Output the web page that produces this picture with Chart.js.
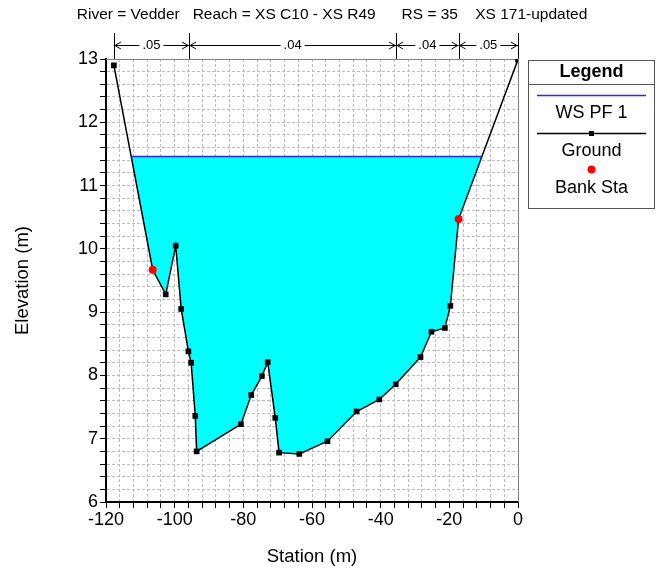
<!DOCTYPE html>
<html>
<head>
<meta charset="utf-8">
<script src="https://cdn.jsdelivr.net/npm/chart.js@4.4.1/dist/chart.umd.min.js"></script>
<style>
  html, body { margin: 0; padding: 0; background: #fff; }
</style>
</head>
<body>
<canvas id="xs-chart" width="658" height="576"></canvas>
<script>
const titleText = "River = Vedder   Reach = XS C10 - XS R49      RS = 35    XS 171-updated";

const groundStation = [-117.7, -106.4, -102.6, -99.7, -98.1, -96.0, -95.2, -94.0, -93.6, -80.7, -77.7, -74.6, -72.9,
    -70.7, -69.6, -63.7, -55.5, -47.0, -40.4, -35.6, -28.4, -25.2, -21.3, -19.7, -17.3, 0];
const groundElev = [12.90, 9.67, 9.28, 10.05, 9.05, 8.38, 8.20, 7.36, 6.80, 7.23, 7.69, 7.99, 8.21,
    7.33, 6.78, 6.76, 6.96, 7.43, 7.62, 7.86, 8.29, 8.69, 8.75, 9.10, 10.47, 12.99];

const bankStation = [-106.4, -17.3];
const bankElev = [9.67, 10.47];

// water surface edges where it meets the ground
const wsStation = [-112.6, -10.6];
const wsElev = 11.46;

// manning's n breaks along the top
const nStation = [-117.7, -95.8, -35.5, -17.3, 0];
const nValue = [".05", ".04", ".04", ".05"];

const xTickLabels = [-120, -100, -80, -60, -40, -20, 0];
const yTickLabels = [6, 7, 8, 9, 10, 11, 12, 13];

const FONT = "'Liberation Sans', Arial, Helvetica, sans-serif";

// wetted part of the section: ws edge, ground points under the ws, ws edge
const waterPoints = [{x: wsStation[0], y: wsElev}]
    .concat(groundStation.map((x, i) => ({x, y: groundElev[i]})).filter(p => p.y < wsElev))
    .concat([{x: wsStation[1], y: wsElev}]);

const decorations = {
    id: "decorations",
    beforeDatasetsDraw(chart) {
        const {ctx, chartArea: a} = chart;
        ctx.save();
        ctx.strokeStyle = "#808080";
        ctx.lineWidth = 1;
        ctx.beginPath();
        ctx.moveTo(a.left, a.top + 0.5);
        ctx.lineTo(a.right + 0.5, a.top + 0.5);
        ctx.lineTo(a.right + 0.5, a.bottom);
        ctx.stroke();
        ctx.restore();
    },
    afterDraw(chart) {
        const {ctx, chartArea: a, scales} = chart;
        const xs = scales.x;
        ctx.save();

        // title
        ctx.fillStyle = "#000";
        ctx.font = "15.5px " + FONT;
        ctx.textAlign = "center";
        ctx.textBaseline = "middle";
        ctx.fillText(titleText, 332, 15);

        // n value bar
        const barY = 45.5;
        ctx.strokeStyle = "#000";
        ctx.lineWidth = 1;
        nStation.forEach(s => {
            const px = Math.round(xs.getPixelForValue(s)) + 0.5;
            ctx.beginPath();
            ctx.moveTo(px, 33);
            ctx.lineTo(px, a.top);
            ctx.stroke();
        });
        ctx.font = "13px " + FONT;
        for (let i = 0; i < nValue.length; i++) {
            const x1 = xs.getPixelForValue(nStation[i]);
            const x2 = xs.getPixelForValue(nStation[i + 1]);
            const mid = (x1 + x2) / 2;
            const w = ctx.measureText(nValue[i]).width;
            ctx.fillText(nValue[i], mid, barY);
            ctx.beginPath();
            ctx.moveTo(x1, barY);
            ctx.lineTo(mid - w / 2 - 3, barY);
            ctx.moveTo(mid + w / 2 + 3, barY);
            ctx.lineTo(x2, barY);
            ctx.moveTo(x1 + 7, barY - 3.5);
            ctx.lineTo(x1 + 1, barY);
            ctx.lineTo(x1 + 7, barY + 3.5);
            ctx.moveTo(x2 - 7, barY - 3.5);
            ctx.lineTo(x2 - 1, barY);
            ctx.lineTo(x2 - 7, barY + 3.5);
            ctx.stroke();
        }

        // legend box
        const L = 528.5, R = 654.5, T = 60.5, B = 208.5;
        const cx = (L + R) / 2;
        ctx.strokeStyle = "#555";
        ctx.strokeRect(L, T, R - L, B - T);
        ctx.beginPath();
        ctx.moveTo(L, 84.5);
        ctx.lineTo(R, 84.5);
        ctx.stroke();

        ctx.fillStyle = "#000";
        ctx.font = "bold 18px " + FONT;
        ctx.fillText("Legend", cx, 72);

        const ws = chart.data.datasets.find(d => d.label === "WS PF 1");
        const gr = chart.data.datasets.find(d => d.label === "Ground");
        const bk = chart.data.datasets.find(d => d.label === "Bank Sta");

        ctx.strokeStyle = ws.borderColor;
        ctx.lineWidth = 1.5;
        ctx.beginPath();
        ctx.moveTo(537, 95.5);
        ctx.lineTo(646, 95.5);
        ctx.stroke();
        ctx.font = "18px " + FONT;
        ctx.fillText(ws.label, cx, 113.5);

        ctx.strokeStyle = gr.borderColor;
        ctx.beginPath();
        ctx.moveTo(537, 133.5);
        ctx.lineTo(646, 133.5);
        ctx.stroke();
        ctx.fillStyle = "#000";
        ctx.fillRect(cx - 2.5, 131, 5, 5);
        ctx.fillText(gr.label, cx, 151);

        ctx.fillStyle = bk.backgroundColor;
        ctx.beginPath();
        ctx.arc(cx, 169.5, 4, 0, Math.PI * 2);
        ctx.fill();
        ctx.fillStyle = "#000";
        ctx.fillText(bk.label, cx, 188);

        ctx.restore();
    }
};

const ctx = document.getElementById("xs-chart").getContext("2d");

new Chart(ctx, {
    type: "scatter",
    data: {
        datasets: [
            {
                label: "Bank Sta",
                data: bankStation.map((x, i) => ({x, y: bankElev[i]})),
                showLine: false,
                pointStyle: "circle",
                pointRadius: 4,
                backgroundColor: "#ff0000",
                borderWidth: 0,
                order: 0
            },
            {
                label: "WS PF 1",
                data: wsStation.map(x => ({x, y: wsElev})),
                showLine: true,
                borderColor: "#2a2ae0",
                borderWidth: 1.5,
                pointRadius: 0,
                order: 1
            },
            {
                label: "Ground",
                data: groundStation.map((x, i) => ({x, y: groundElev[i]})),
                showLine: true,
                borderColor: "#000",
                borderWidth: 1.5,
                pointStyle: "rect",
                pointRadius: c => (c.raw && bankStation.includes(c.raw.x)) ? 0 : 4,
                pointBackgroundColor: "#000",
                pointBorderWidth: 0,
                fill: false,
                order: 2
            },
            {
                label: "water",
                data: waterPoints,
                showLine: true,
                borderWidth: 0,
                borderColor: "rgba(0,0,0,0)",
                pointRadius: 0,
                backgroundColor: "#00ffff",
                fill: {target: {value: wsElev}},
                order: 3
            }
        ]
    },
    options: {
        responsive: false,
        animation: false,
        devicePixelRatio: 1,
        layout: {padding: {top: 59, right: 140, left: 0, bottom: 0}},
        plugins: {
            legend: {display: false},
            tooltip: {enabled: false}
        },
        scales: {
            x: {
                type: "linear",
                min: -120,
                max: 0,
                afterFit: s => { s.height = 74; },
                afterBuildTicks: s => {
                    const t = [];
                    for (let v = -120; v <= 0; v += 4) t.push({value: v});
                    s.ticks = t;
                },
                ticks: {
                    autoSkip: false,
                    maxRotation: 0,
                    padding: 1,
                    color: "#000",
                    font: {family: FONT, size: 18},
                    callback: v => xTickLabels.includes(v) ? String(v) : ""
                },
                grid: {
                    color: "#bdbdbd",
                    lineWidth: 1,
                    tickColor: "#000",
                    tickLength: 6
                },
                border: {color: "#000", width: 2, dash: [3, 2]},
                title: {
                    display: true,
                    text: "Station (m)",
                    color: "#000",
                    font: {family: FONT, size: 18.5},
                    padding: {top: 0, bottom: 8}
                }
            },
            y: {
                type: "linear",
                min: 6,
                max: 13,
                afterFit: s => { s.width = 106; },
                afterBuildTicks: s => {
                    const t = [];
                    for (let i = 0; i <= 35; i++) t.push({value: Math.round((6 + i * 0.2) * 10) / 10});
                    s.ticks = t;
                },
                ticks: {
                    autoSkip: false,
                    padding: 2,
                    color: "#000",
                    font: {family: FONT, size: 18},
                    callback: v => yTickLabels.includes(v) ? String(v) : ""
                },
                grid: {
                    color: "#bdbdbd",
                    lineWidth: 1,
                    tickColor: "#000",
                    tickLength: 6
                },
                border: {color: "#000", width: 2, dash: [3, 2]},
                title: {
                    display: true,
                    text: "Elevation (m)",
                    color: "#000",
                    font: {family: FONT, size: 18.5},
                    padding: {top: 12, bottom: 0}
                }
            }
        }
    },
    plugins: [decorations]
});
</script>
</body>
</html>
